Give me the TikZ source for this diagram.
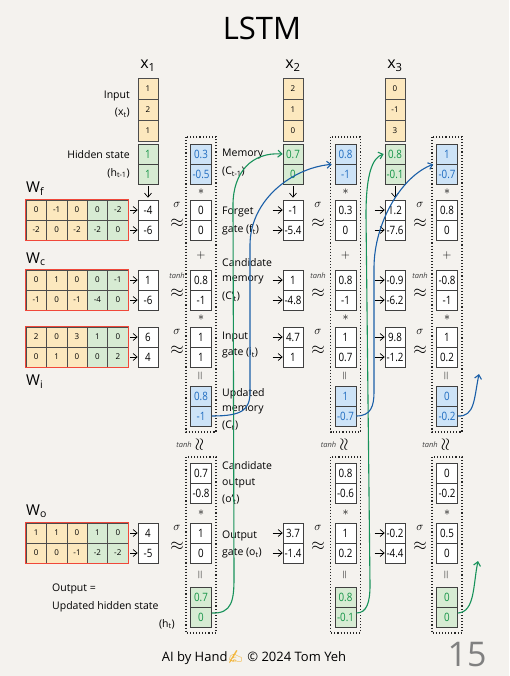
\documentclass[tikz,border=0pt]{standalone}
\usepackage{fontspec}
\setmainfont{Open Sans}
\newfontfamily\numfont[FakeStretch=0.85]{Open Sans}
\newfontfamily\emojifont{Noto Emoji}
\usetikzlibrary{arrows.meta}
\definecolor{paper}{HTML}{F4F2EE}
\definecolor{ycell}{HTML}{FCE8BE}
\definecolor{gcell}{HTML}{D7EBD3}
\definecolor{bcell}{HTML}{CDE3F7}
\definecolor{redb}{HTML}{F0483A}
\definecolor{btext}{HTML}{1F6CC0}
\definecolor{gtext}{HTML}{159447}
\definecolor{barrow}{HTML}{1A5FA8}
\definecolor{garrow}{HTML}{17925A}
\definecolor{handc}{HTML}{F2B53A}
\tikzset{
 cellbase/.style={draw=black!75, line width=0.7pt, inner sep=0pt, minimum width=21pt, minimum height=20pt, fill=white, font=\numfont\fontsize{11.5}{12}\selectfont},
 rcl/.style={cellbase, minimum width=20pt},
 bluecell/.style={cellbase, fill=bcell, text=btext},
 greencell/.style={cellbase, fill=gcell, text=gtext},
 hidcell/.style={cellbase, minimum width=20pt, fill=gcell, text=gtext},
 incell/.style={draw=black!70, line width=0.6pt, inner sep=0pt, minimum width=20pt, minimum height=21pt, fill=ycell, font=\fontsize{8}{8}\selectfont},
 mcell/.style={draw=black!70, line width=0.6pt, inner sep=0pt, minimum width=20.4pt, minimum height=20pt, font=\fontsize{8}{8}\selectfont},
 ycl/.style={fill=ycell}, gcl/.style={fill=gcell},
 redframe/.style={draw=redb, line width=1.2pt},
 lab/.style={anchor=west, inner sep=0pt, font=\fontsize{10.5}{11}\selectfont},
 labr/.style={anchor=east, inner sep=0pt, font=\fontsize{10.5}{11}\selectfont},
 opn/.style={inner sep=0pt, font=\fontsize{12}{12}\selectfont},
 sig/.style={inner sep=0pt, font=\fontsize{13}{13}\selectfont},
 apx/.style={inner sep=0pt, text height=8pt, text depth=0pt, font=\fontsize{19}{19}\selectfont},
 tanhl/.style={inner sep=0pt, font=\itshape\fontsize{7.5}{7.5}\selectfont, text=black!75},
 dotbox/.style={draw=black!85, line width=1.1pt, dotted},
 harr/.style={->, line width=0.7pt},
 barr/.style={->, draw=barrow, line width=1.1pt},
 garr/.style={->, draw=garrow, line width=1.1pt},
 wlab/.style={anchor=west, inner sep=0pt, font=\fontsize{15}{15}\selectfont},
 xlab/.style={inner sep=0pt, font=\fontsize{16}{16}\selectfont},
}
\newcommand\twov[6]{\node[#4] (#1a) at (#2,#3) {#5}; \node[#4] (#1b) at (#2,#3+20) {#6};}
\newcommand\wrow[7]{%
\node[mcell,ycl] (#1c1) at (36.2,#2) {#3};
\node[mcell,ycl] (#1c2) at (56.6,#2) {#4};
\node[mcell,ycl] (#1c3) at (77,#2) {#5};
\node[mcell,gcl] (#1c4) at (97.4,#2) {#6};
\node[mcell,gcl] (#1c5) at (117.8,#2) {#7};}
\newcommand\sigap[3]{\node[sig] (#1s) at (#2,#3-5) {$\sigma$}; \node[apx] (#1x) at (#2,#3+13) {$\approx$};}
\newcommand\tanhap[3]{\node[tanhl] (#1s) at (#2,#3-4) {tanh}; \node[apx] (#1x) at (#2,#3+13) {$\approx$};}
\newcommand\colops[2]{%
\node[opn] (#1st1) at (#2,192) {$\ast$};
\node[opn] (#1pl) at (#2,255) {$+$};
\node[opn] (#1st2) at (#2,318) {$\ast$};
\node[opn,rotate=90] (#1eq1) at (#2,376) {$=$};
\node[opn] (#1st3) at (#2,513) {$\ast$};
\node[opn,rotate=90] (#1eq2) at (#2,575) {$=$};
\node[tanhl,anchor=east] (#1th) at (#2-9,445) {tanh};
\node[apx,rotate=90] (#1tx) at (#2-1,445) {$\approx$};
\draw[dotbox] (#2-15,137) rectangle (#2+15,432);
\draw[dotbox] (#2-15,457) rectangle (#2+15,633);}
\begin{document}
\begin{tikzpicture}[x=1pt,y=-1pt, >={Straight Barb[length=4pt,width=7pt]}]
\fill[paper] (0,0) rectangle (509,676);
\useasboundingbox (0,0) rectangle (509,676);

% title and column heads
\node[font=\fontsize{31}{31}\selectfont] (title) at (262,28) {LSTM};
\node[xlab] (xl1) at (148,66) {x\textsubscript{1}};
\node[xlab] (xl2) at (293,66) {x\textsubscript{2}};
\node[xlab] (xl3) at (395,66) {x\textsubscript{3}};

% inputs
\node[incell] (in1a) at (148,88.5) {1};
\node[incell] (in1b) at (148,109.5) {2};
\node[incell] (in1c) at (148,130.5) {1};
\node[incell] (in2a) at (293,88.5) {2};
\node[incell] (in2b) at (293,109.5) {1};
\node[incell] (in2c) at (293,130.5) {0};
\node[incell] (in3a) at (395,88.5) {0};
\node[incell] (in3b) at (395,109.5) {-1};
\node[incell] (in3c) at (395,130.5) {3};
\twov{hid1}{148}{154}{hidcell}{1}{1}
\twov{hid2}{293}{154}{hidcell}{0.7}{0}
\twov{hid3}{395}{154}{hidcell}{0.8}{-0.1}

% left labels
\node[labr] (linp) at (130,96) {Input};
\node[labr] (linpx) at (130,113) {(x\textsubscript{t})};
\node[labr] (lhid) at (130,155) {Hidden state};
\node[labr] (lhidh) at (130,173) {(h\textsubscript{t-1})};
\node[wlab] (wlf) at (26,189) {W\textsubscript{f}};
\node[wlab] (wlc) at (26,259) {W\textsubscript{c}};
\node[wlab] (wli) at (26,382) {W\textsubscript{i}};
\node[wlab] (wlo) at (26,511) {W\textsubscript{o}};
\node[lab] (lout) at (52,589) {Output =};
\node[lab] (lout2) at (52,607) {Updated hidden state};
\node[labr] (lout3) at (175,624) {(h\textsubscript{t})};

% weight matrices
\wrow{wfa}{210}{0}{-1}{0}{0}{-2}
\wrow{wfb}{230}{-2}{0}{-2}{-2}{0}
\draw[redframe] (wfac1.north west) rectangle (wfbc5.south east);
\wrow{wca}{280}{0}{1}{0}{0}{-1}
\wrow{wcb}{300}{-1}{0}{-1}{-4}{0}
\draw[redframe] (wcac1.north west) rectangle (wcbc5.south east);
\wrow{wia}{337}{2}{0}{3}{1}{0}
\wrow{wib}{357}{0}{1}{0}{0}{2}
\draw[redframe] (wiac1.north west) rectangle (wibc5.south east);
\wrow{woa}{533}{1}{1}{0}{1}{0}
\wrow{wob}{553}{0}{0}{-1}{-2}{-2}
\draw[redframe] (woac1.north west) rectangle (wobc5.south east);

% pre-activation results
\twov{rf1}{148}{210}{rcl}{-4}{-6}
\twov{rc1}{148}{280}{rcl}{1}{-6}
\twov{ri1}{148}{337}{rcl}{6}{4}
\twov{ro1}{148}{533}{rcl}{4}{-5}
\twov{rf2}{293}{210}{rcl}{-1}{-5.4}
\twov{rc2}{293}{280}{rcl}{1}{-4.8}
\twov{ri2}{293}{337}{rcl}{4.7}{1}
\twov{ro2}{293}{533}{rcl}{3.7}{-1.4}
\twov{rf3}{395}{210}{rcl}{1.2}{-7.6}
\twov{rc3}{395}{280}{rcl}{-0.9}{-6.2}
\twov{ri3}{395}{337}{rcl}{9.8}{-1.2}
\twov{ro3}{395}{533}{rcl}{-0.2}{-4.4}

% arrows into results
\foreach \m/\r in {wfa/rf1a, wfb/rf1b, wca/rc1a, wcb/rc1b, wia/ri1a, wib/ri1b, woa/ro1a, wob/ro1b}
  \draw[harr, shorten <=2pt] (\m c5.east) -- (\r.west);
\foreach \r in {rf2a,rf2b,rc2a,rc2b,ri2a,ri2b,ro2a,ro2b,rf3a,rf3b,rc3a,rc3b,ri3a,ri3b,ro3a,ro3b}
  \draw[harr] ([xshift=-10pt]\r.west) -- (\r.west);
\draw[harr, shorten <=2pt, shorten >=2pt] (hid1b.south) -- (rf1a.north);
\draw[harr, shorten <=2pt, shorten >=2pt] (hid2b.south) -- (rf2a.north);
\draw[harr, shorten <=2pt, shorten >=2pt] (hid3b.south) -- (rf3a.north);

% activation symbols
\sigap{af1}{177}{210} \tanhap{ac1}{177}{280} \sigap{ai1}{177}{337} \sigap{ao1}{177}{533}
\sigap{af2}{318}{210} \tanhap{ac2}{318}{280} \sigap{ai2}{318}{337} \sigap{ao2}{318}{533}
\sigap{af3}{420}{210} \tanhap{ac3}{420}{280} \sigap{ai3}{420}{337} \sigap{ao3}{420}{533}

% column vectors
\colops{k1}{201}
\colops{k2}{345.5}
\colops{k3}{447}
\twov{mem1}{201}{154}{bluecell}{0.3}{-0.5}
\twov{fg1}{201}{210}{cellbase}{0}{0}
\twov{cm1}{201}{280}{cellbase}{0.8}{-1}
\twov{ig1}{201}{337}{cellbase}{1}{1}
\twov{um1}{201}{396}{bluecell}{0.8}{-1}
\twov{co1}{201}{473}{cellbase}{0.7}{-0.8}
\twov{og1}{201}{533}{cellbase}{1}{0}
\twov{ho1}{201}{597}{greencell}{0.7}{0}

\twov{mem2}{345.5}{154}{bluecell}{0.8}{-1}
\twov{fg2}{345.5}{210}{cellbase}{0.3}{0}
\twov{cm2}{345.5}{280}{cellbase}{0.8}{-1}
\twov{ig2}{345.5}{337}{cellbase}{1}{0.7}
\twov{um2}{345.5}{396}{bluecell}{1}{-0.7}
\twov{co2}{345.5}{473}{cellbase}{0.8}{-0.6}
\twov{og2}{345.5}{533}{cellbase}{1}{0.2}
\twov{ho2}{345.5}{597}{greencell}{0.8}{-0.1}

\twov{mem3}{447}{154}{bluecell}{1}{-0.7}
\twov{fg3}{447}{210}{cellbase}{0.8}{0}
\twov{cm3}{447}{280}{cellbase}{-0.8}{-1}
\twov{ig3}{447}{337}{cellbase}{1}{0.2}
\twov{um3}{447}{396}{bluecell}{0}{-0.2}
\twov{co3}{447}{473}{cellbase}{0}{-0.2}
\twov{og3}{447}{533}{cellbase}{0.5}{0}
\twov{ho3}{447}{597}{greencell}{0}{0}

% middle labels
\node[lab] (lmem) at (222,154) {Memory};
\node[lab] (lmemc) at (222,172) {(C\textsubscript{t-1})};
\node[lab] (lfg) at (222,212) {Forget};
\node[lab] (lfg2) at (222,230) {gate (f\textsubscript{t})};
\node[lab] (lcm) at (222,263) {Candidate};
\node[lab] (lcm2) at (222,280) {memory};
\node[lab] (lcm3) at (222,297) {(C'\textsubscript{t})};
\node[lab] (lig) at (222,337) {Input};
\node[lab] (lig2) at (222,353) {gate (i\textsubscript{t})};
\node[lab] (lum) at (222,394) {Updated};
\node[lab] (lum2) at (222,410) {memory};
\node[lab] (lum3) at (222,426) {(C\textsubscript{t})};
\node[lab] (lco) at (222,466) {Candidate};
\node[lab] (lco2) at (222,483) {output};
\node[lab] (lco3) at (222,500) {(o'\textsubscript{t})};
\node[lab] (log) at (222,536) {Output};
\node[lab] (log2) at (222,553) {gate (o\textsubscript{t})};

% recurrent connections
\coordinate (g1s) at ([yshift=4pt]ho1b.east);
\coordinate (g2s) at ([yshift=4pt]ho2b.east);
\coordinate (g3s) at ([yshift=4pt]ho3b.east);
\coordinate (b3e) at (479,374);
\coordinate (g3e) at (478,561);
\draw[garr] (g1s) .. controls (232,614) and (234,600) .. (234,578) -- (233,205) .. controls (233,172) and (252,152) .. (hid2a.west);
\draw[barr] (um1b.east) .. controls (242,416) and (250,410) .. (250,392) -- (250,245) .. controls (250,200) and (292,168) .. ([xshift=-3pt]mem2a.south west);
\draw[garr] (g2s) .. controls (367,613) and (370,602) .. (370,585) -- (366,215) .. controls (366,175) and (372,158) .. ([xshift=-1pt]hid3a.west);
\draw[barr] (um2b.east) .. controls (371,416) and (374,406) .. (374,392) -- (374,268) .. controls (374,222) and (402,176) .. ([xshift=-3pt]mem3a.south west);
\draw[barr] (um3b.east) .. controls (475,417) and (474,398) .. (b3e);
\draw[garr] (g3s) .. controls (475,612) and (473,585) .. (g3e);

% footer
\node[font=\fontsize{13}{13}\selectfont] (foot) at (254,658) {AI by Hand{\emojifont\textcolor{handc}{✍}} © 2024 Tom Yeh};
\node[text=black!50, font=\fontsize{34}{34}\selectfont] (page) at (467,655) {15};
\end{tikzpicture}
\end{document}
